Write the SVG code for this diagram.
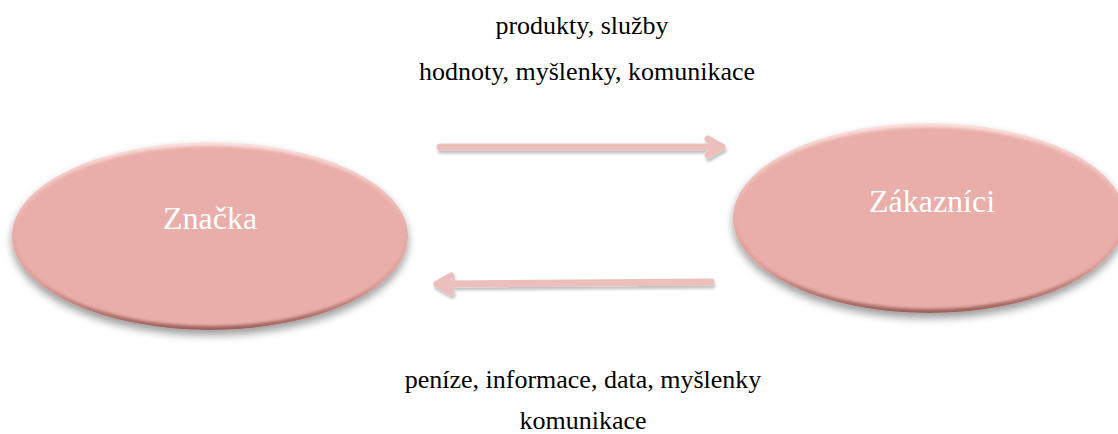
<svg xmlns="http://www.w3.org/2000/svg" width="1118" height="434" viewBox="0 0 1118 434">
<style>
.lbl{font-family:"Liberation Serif","Times New Roman",serif;font-size:26px;fill:#000;text-anchor:middle}
.nt{font-family:"Liberation Serif","Times New Roman",serif;font-size:32px;fill:#ffffff;text-anchor:middle}
.body{fill:#e9aea9}
.arr{fill:none;stroke:#ecbfbd;stroke-width:7;stroke-linecap:round;stroke-linejoin:round}
</style>
<defs>
<filter id="sh" x="-10%" y="-10%" width="120%" height="130%">
<feGaussianBlur in="SourceAlpha" stdDeviation="4"/>
<feOffset dx="0" dy="5" result="b"/>
<feComponentTransfer><feFuncA type="linear" slope="0.4"/></feComponentTransfer>
<feMerge><feMergeNode/><feMergeNode in="SourceGraphic"/></feMerge>
</filter>
<filter id="soft" x="-5%" y="-5%" width="110%" height="110%">
<feGaussianBlur stdDeviation="1.8"/>
</filter>
<filter id="ash" x="-5%" y="-100%" width="110%" height="300%">
<feGaussianBlur in="SourceAlpha" stdDeviation="1.5"/>
<feOffset dx="1" dy="3"/>
<feComponentTransfer><feFuncA type="linear" slope="0.25"/></feComponentTransfer>
<feMerge><feMergeNode/><feMergeNode in="SourceGraphic"/></feMerge>
</filter>
<linearGradient id="rim" x1="0" y1="0" x2="0" y2="1">
<stop offset="0" stop-color="#fbe1de"/>
<stop offset="0.45" stop-color="#e9aea9"/>
<stop offset="0.75" stop-color="#d99b96"/>
<stop offset="1" stop-color="#9c5f5a"/>
</linearGradient>
</defs>
<g id="connectors">
<g filter="url(#ash)">
<path class="arr" d="M440,147 L722,147 M708,139 L722,147 L708,155"/>
</g>
<g filter="url(#ash)">
<path class="arr" d="M711,282 L437,284 M451,276 L437,284 L451,292"/>
</g>
</g>
<g id="node-znacka">
<g filter="url(#sh)">
<ellipse cx="210" cy="236" rx="198" ry="94" fill="url(#rim)"/>
</g>
<ellipse class="body" cx="210" cy="236" rx="195" ry="90" filter="url(#soft)"/>
<text class="nt" x="210" y="229">Značka</text>
</g>
<g id="node-zakaznici">
<g filter="url(#sh)">
<ellipse cx="929" cy="218" rx="196" ry="95" fill="url(#rim)"/>
</g>
<ellipse class="body" cx="929" cy="218" rx="193" ry="91" filter="url(#soft)"/>
<text class="nt" x="932" y="212">Zákazníci</text>
</g>
<g id="labels">
<text class="lbl" font-family="Liberation Serif, serif" x="582" y="34">produkty, služby</text>
<text class="lbl" font-family="Liberation Serif, serif" x="587" y="80">hodnoty, myšlenky, komunikace</text>
<text class="lbl" font-family="Liberation Serif, serif" x="583" y="388">peníze, informace, data, myšlenky</text>
<text class="lbl" font-family="Liberation Serif, serif" x="583" y="429">komunikace</text>
</g>
</svg>
